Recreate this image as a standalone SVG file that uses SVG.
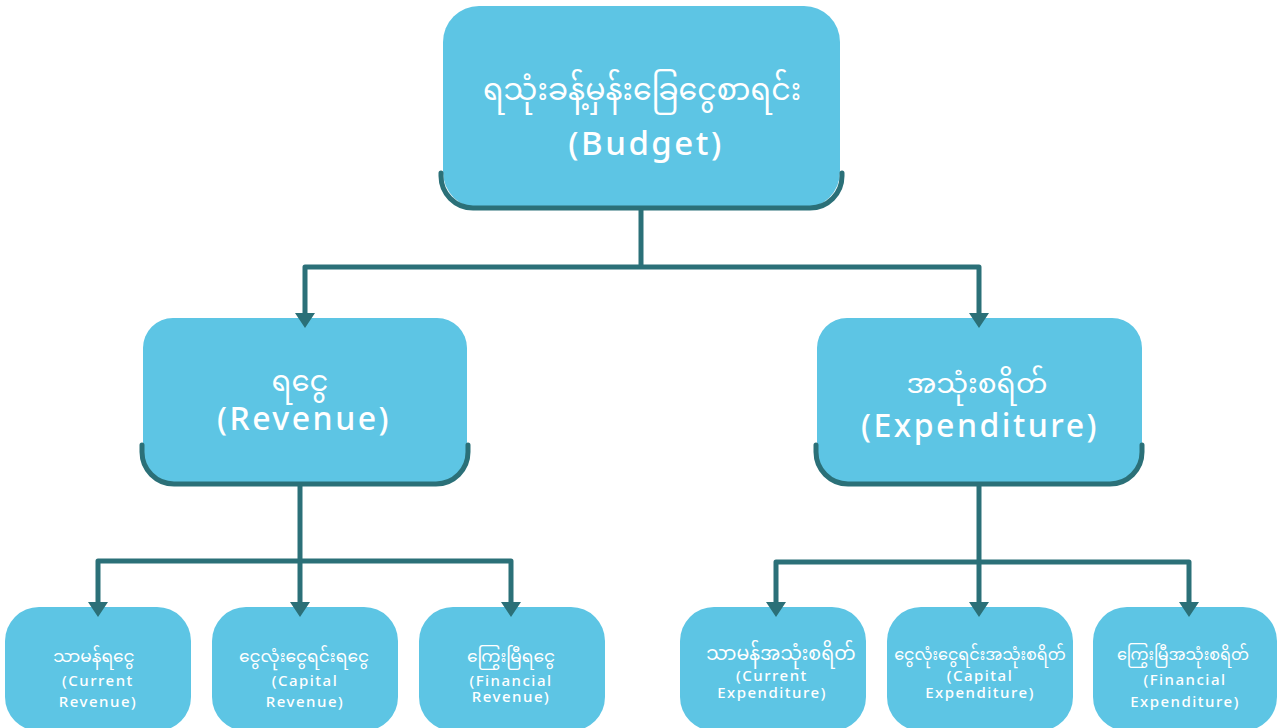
<svg xmlns="http://www.w3.org/2000/svg" width="1282" height="728" viewBox="0 0 1282 728">
<defs>
<style>
.box{fill:#5dc5e4;}
.rim{fill:none;stroke:#2b7078;stroke-width:5;stroke-linecap:round;}
.ln{fill:none;stroke:#2b7078;stroke-width:5;stroke-linejoin:round;}
.ah{fill:#2b7078;}
.t{fill:#ffffff;font-family:"Noto Sans Myanmar","Padauk","Myanmar Text","Noto Sans","DejaVu Sans",sans-serif;text-anchor:middle;}
.e{fill:#ffffff;font-family:"Noto Sans","Lato",sans-serif;font-weight:500;text-anchor:middle;letter-spacing:1.5px;}
.eb{letter-spacing:2.5px;}
</style>
</defs>

<g id="budget">
<rect class="box" x="443" y="6" width="397" height="202" rx="36"/>
<path class="rim" d="M441,173 V176 A32,32 0 0 0 473,208 H810 A32,32 0 0 0 842,176 V173"/>
<text class="t" x="642" y="100" font-size="30">ရသုံးခန့်မှန်းခြေငွေစာရင်း</text>
<text class="e eb" x="646" y="155" font-size="33">(Budget)</text>
</g>

<g id="revenue">
<rect class="box" x="143" y="318" width="324" height="165" rx="30"/>
<path class="rim" d="M142,445 V452 A32,32 0 0 0 174,484 H436 A32,32 0 0 0 468,452 V445"/>
<text class="t" x="300" y="391" font-size="29">ရငွေ</text>
<text class="e eb" x="304" y="430" font-size="32">(Revenue)</text>
</g>

<g id="expenditure">
<rect class="box" x="817" y="318" width="325" height="165" rx="30"/>
<path class="rim" d="M816,445 V452 A32,32 0 0 0 848,484 H1110 A32,32 0 0 0 1142,452 V445"/>
<text class="t" x="977" y="393" font-size="28">အသုံးစရိတ်</text>
<text class="e eb" x="980" y="437" font-size="32">(Expenditure)</text>
</g>

<g id="current-revenue">
<rect class="box" x="5" y="607" width="186" height="124" rx="34"/>
<text class="t" x="94" y="662" font-size="17">သာမန်ရငွေ</text>
<text class="e" x="98" y="686" font-size="15">(Current</text>
<text class="e" x="98" y="707" font-size="15">Revenue)</text>
</g>

<g id="capital-revenue">
<rect class="box" x="212" y="607" width="186" height="124" rx="34"/>
<text class="t" x="304" y="662" font-size="17">ငွေလုံးငွေရင်းရငွေ</text>
<text class="e" x="305" y="686" font-size="15">(Capital</text>
<text class="e" x="305" y="707" font-size="15">Revenue)</text>
</g>

<g id="financial-revenue">
<rect class="box" x="419" y="607" width="186" height="124" rx="34"/>
<text class="t" x="511" y="662" font-size="17">ကြွေးမြီရငွေ</text>
<text class="e" x="511" y="686" font-size="15">(Financial</text>
<text class="e" x="511" y="702" font-size="15">Revenue)</text>
</g>

<g id="current-expenditure">
<rect class="box" x="680" y="607" width="186" height="124" rx="34"/>
<text class="t" x="781" y="660" font-size="19">သာမန်အသုံးစရိတ်</text>
<text class="e" x="772" y="681" font-size="15">(Current</text>
<text class="e" x="772" y="698" font-size="15">Expenditure)</text>
</g>

<g id="capital-expenditure">
<rect class="box" x="887" y="607" width="186" height="124" rx="34"/>
<text class="t" x="980" y="660" font-size="16">ငွေလုံးငွေရင်းအသုံးစရိတ်</text>
<text class="e" x="980" y="681" font-size="15">(Capital</text>
<text class="e" x="980" y="698" font-size="15">Expenditure)</text>
</g>

<g id="financial-expenditure">
<rect class="box" x="1093" y="607" width="184" height="124" rx="34"/>
<text class="t" x="1183" y="660" font-size="16">ကြွေးမြီအသုံးစရိတ်</text>
<text class="e" x="1185" y="685" font-size="15">(Financial</text>
<text class="e" x="1185" y="707" font-size="15">Expenditure)</text>
</g>

<g id="connectors">
<path class="ln" d="M641,210 V266"/>
<path class="ln" d="M305,314 V267 H979 V314"/>
<path class="ln" d="M300,485 V561"/>
<path class="ln" d="M98,603 V561 H511 V603"/>
<path class="ln" d="M300,561 V603"/>
<path class="ln" d="M979,485 V562"/>
<path class="ln" d="M776,603 V562 H1189 V603"/>
<path class="ln" d="M979,562 V603"/>
<path class="ah" d="M295,313 L315,313 L305,328 Z M969,313 L989,313 L979,328 Z M88,602 L108,602 L98,617 Z M290,602 L310,602 L300,617 Z M501,602 L521,602 L511,617 Z M766,602 L786,602 L776,617 Z M969,602 L989,602 L979,617 Z M1179,602 L1199,602 L1189,617 Z"/>
</g>
</svg>
